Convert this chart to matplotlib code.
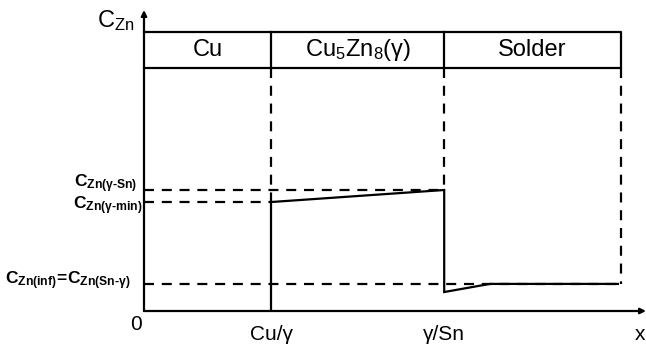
import matplotlib
matplotlib.use("Agg")
import matplotlib.pyplot as plt

plt.rcParams["font.family"] = ["Liberation Sans", "DejaVu Sans"]
plt.rcParams["mathtext.fontset"] = "custom"
plt.rcParams["mathtext.rm"] = "Liberation Sans"
plt.rcParams["mathtext.it"] = "Liberation Sans"
plt.rcParams["mathtext.bf"] = "Liberation Sans:bold"

# interface positions (fraction of x axis)
cu_gamma = 0.253
gamma_sn = 0.598
x_end = 0.950

# concentration levels (fraction of y axis)
c_gamma_sn = 0.402
c_gamma_min = 0.362
c_inf = 0.090

# Zn concentration profile
x_profile = [cu_gamma, cu_gamma, gamma_sn, gamma_sn, 0.689, 0.944]
c_profile = [0.0, c_gamma_min, c_gamma_sn, 0.063, c_inf, c_inf]

# phase band on top
band_lo, band_hi = 0.807, 0.927
phase_edges = [0.0, cu_gamma, gamma_sn, x_end]
phase_names = ["Cu", r"$\mathrm{Cu_5Zn_8(γ)}$", "Solder"]

lw = 1.6
dash = (0, (4.5, 3.5))

fig = plt.figure(figsize=(6.46, 3.51), dpi=100)
ax = fig.add_axes([144 / 646, 40 / 351, 502 / 646, 301 / 351])
ax.set_xlim(0, 1)
ax.set_ylim(0, 1)
ax.axis("off")

# axes with arrows
ax.annotate("", xy=(1.0, 0), xytext=(0, 0),
            arrowprops=dict(arrowstyle="-|>", lw=lw, color="black",
                            mutation_scale=8, shrinkA=0, shrinkB=0))
ax.annotate("", xy=(0, 1.0), xytext=(0, 0),
            arrowprops=dict(arrowstyle="-|>", lw=lw, color="black",
                            mutation_scale=8, shrinkA=0, shrinkB=0))

# phase band
ax.plot([0, x_end, x_end, 0], [band_hi, band_hi, band_lo, band_lo], color="black", lw=lw, clip_on=False)
for xe in phase_edges[1:-1]:
    ax.plot([xe, xe], [band_lo, band_hi], color="black", lw=lw)
for i, name in enumerate(phase_names):
    xc = (phase_edges[i] + phase_edges[i + 1]) / 2
    ax.text(xc, (band_lo + band_hi) / 2, name, ha="center", va="center", fontsize=17)

# dashed guide lines
ax.plot([0, cu_gamma], [c_gamma_min, c_gamma_min], color="black", lw=lw, ls=dash)
ax.plot([0, gamma_sn], [c_gamma_sn, c_gamma_sn], color="black", lw=lw, ls=dash)
ax.plot([0, x_end], [c_inf, c_inf], color="black", lw=lw, ls=dash)
ax.plot([cu_gamma, cu_gamma], [band_lo, c_gamma_min], color="black", lw=lw, ls=dash)
ax.plot([gamma_sn, gamma_sn], [band_lo, c_gamma_sn], color="black", lw=lw, ls=dash)
ax.plot([x_end, x_end], [band_lo, c_inf], color="black", lw=lw, ls=dash)

# profile
ax.plot(x_profile, c_profile, color="black", lw=lw, solid_joinstyle="miter")

# labels
ax.text(-0.018, 0.965, r"$\mathrm{C_{Zn}}$", ha="right", va="center", fontsize=17)
ax.text(-0.004, -0.013, "0", ha="right", va="top", fontsize=15)
ax.text(cu_gamma, -0.048, "Cu/γ", ha="center", va="top", fontsize=15)
ax.text(gamma_sn, -0.048, "γ/Sn", ha="center", va="top", fontsize=15)
ax.text(0.988, -0.048, "x", ha="center", va="top", fontsize=15)

ax.text(-0.014, c_gamma_sn + 0.022, r"$\mathbf{C_{Zn(γ‐Sn)}}$", ha="right", va="center", fontsize=12.5)
ax.text(-0.004, c_gamma_min - 0.012, r"$\mathbf{C_{Zn(γ‐min)}}$", ha="right", va="center", fontsize=12.5)
ax.text(-0.028, c_inf + 0.01, r"$\mathbf{C_{Zn(inf)}\!=\!C_{Zn(Sn‐γ)}}$", ha="right", va="center", fontsize=12.5)

fig.savefig("out.png", dpi=100)
